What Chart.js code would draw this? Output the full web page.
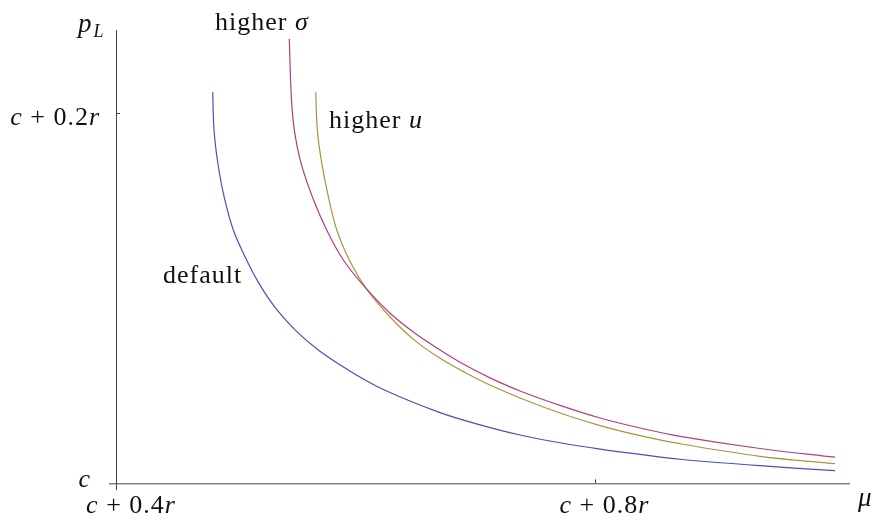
<!DOCTYPE html>
<html>
<head>
<meta charset="utf-8">
<script src="https://cdn.jsdelivr.net/npm/chart.js@4/dist/chart.umd.min.js"></script>
<style>
  html, body { margin: 0; padding: 0; background: #fff; }
  #plot { display: block; }
</style>
</head>
<body>
<canvas id="plot" width="877" height="520"></canvas>
<script>
// mu values (offset from c, in units of r) and p_L values for each curve
const defaultMu = [0.4807, 0.4818, 0.4850, 0.4902, 0.4979, 0.5077, 0.5188, 0.5327, 0.5494, 0.5688, 0.5939, 0.6231, 0.6704, 0.7038, 0.7372, 0.7705, 0.8039, 0.8373, 0.8707, 0.9374, 1.0];
const defaultPL = [0.2114, 0.1910, 0.1730, 0.1549, 0.1369, 0.1224, 0.1086, 0.0951, 0.0829, 0.0720, 0.0612, 0.0507, 0.0382, 0.0316, 0.0261, 0.0219, 0.0185, 0.0156, 0.0130, 0.0095, 0.0068];

const sigmaMu = [0.5446, 0.5463, 0.5488, 0.5544, 0.5638, 0.5758, 0.5897, 0.6092, 0.6287, 0.6495, 0.6704, 0.6913, 0.7121, 0.7372, 0.7705, 0.8039, 0.8373, 0.8707, 0.9374, 1.0];
const sigmaPL = [0.2402, 0.2090, 0.1910, 0.1730, 0.1549, 0.1369, 0.1207, 0.1049, 0.0919, 0.0811, 0.0721, 0.0639, 0.0570, 0.0499, 0.0421, 0.0353, 0.0299, 0.0254, 0.0188, 0.0141];

const uMu = [0.5667, 0.5680, 0.5717, 0.5772, 0.5842, 0.5947, 0.6092, 0.6287, 0.6495, 0.6704, 0.6913, 0.7121, 0.7372, 0.7705, 0.8039, 0.8373, 0.8707, 0.9374, 1.0];
const uPL = [0.2114, 0.1910, 0.1730, 0.1549, 0.1369, 0.1207, 0.1049, 0.0899, 0.0771, 0.0676, 0.0599, 0.0531, 0.0461, 0.0380, 0.0312, 0.0258, 0.0214, 0.0146, 0.0106];

const xTicks = [0.4, 0.8];
const xTickLabels = ['c + 0.4r', 'c + 0.8r'];
const yTicks = [0, 0.2];
const yTickLabels = ['c', 'c + 0.2r'];

const FONT = 'Liberation Serif';
const SIZE = 26;

function toPoints(xs, ys) {
  return xs.map((x, i) => ({ x: x, y: ys[i] }));
}

// draw a string, single letters in italic (math variables), the rest upright
function drawMath(ctx, text, x, y, align, size) {
  const parts = text.match(/[a-zA-Z\u03c3\u03bc]|[^a-zA-Z\u03c3\u03bc]+/g);
  const fontFor = p => (/^[a-zA-Z\u03c3\u03bc]$/.test(p) ? 'italic ' : '') + size + 'px "' + FONT + '"';
  let width = 0;
  parts.forEach(p => { ctx.font = fontFor(p); width += ctx.measureText(p).width; });
  let cx = x;
  if (align === 'right') cx = x - width;
  if (align === 'center') cx = x - width / 2;
  ctx.textAlign = 'left';
  ctx.textBaseline = 'alphabetic';
  parts.forEach(p => {
    ctx.font = fontFor(p);
    ctx.fillText(p, cx, y);
    cx += ctx.measureText(p).width;
  });
}

function drawWords(ctx, word, symbol, x, y) {
  ctx.textAlign = 'left';
  ctx.textBaseline = 'alphabetic';
  ctx.font = SIZE + 'px "' + FONT + '"';
  ctx.fillText(word + ' ', x, y);
  const w = ctx.measureText(word + ' ').width;
  ctx.font = 'italic ' + SIZE + 'px "' + FONT + '"';
  ctx.fillText(symbol, x + w, y);
}

const axesPlugin = {
  id: 'axesPlugin',
  afterDraw(chart) {
    const ctx = chart.ctx;
    const xs = chart.scales.x;
    const ys = chart.scales.y;
    const x0 = xs.getPixelForValue(xTicks[0]);
    const y0 = ys.getPixelForValue(yTicks[0]);

    ctx.save();
    ctx.strokeStyle = '#444';
    ctx.lineWidth = 1;
    ctx.beginPath();
    // axes lines
    ctx.moveTo(x0 + 0.5, ys.top);
    ctx.lineTo(x0 + 0.5, y0 + 7);
    ctx.moveTo(x0 - 7, y0 + 0.5);
    ctx.lineTo(xs.right, y0 + 0.5);
    // inner ticks
    xTicks.slice(1).forEach(v => {
      const px = Math.round(xs.getPixelForValue(v)) + 0.5;
      ctx.moveTo(px, y0);
      ctx.lineTo(px, y0 - 4);
    });
    yTicks.slice(1).forEach(v => {
      const py = Math.round(ys.getPixelForValue(v)) + 0.5;
      ctx.moveTo(x0, py);
      ctx.lineTo(x0 + 4, py);
    });
    ctx.stroke();

    ctx.fillStyle = '#111';
    if ('letterSpacing' in ctx) ctx.letterSpacing = '1px';
    xTicks.forEach((v, i) => {
      const px = xs.getPixelForValue(v);
      drawMath(ctx, xTickLabels[i], px + (i === 0 ? 15 : 9), y0 + 30, 'center', SIZE);
    });
    yTicks.forEach((v, i) => {
      const py = ys.getPixelForValue(v);
      if (i === 0) drawMath(ctx, yTickLabels[i], x0 - 25, py + 4, 'right', SIZE);
      else drawMath(ctx, yTickLabels[i], x0 - 16, py + 12, 'right', SIZE);
    });

    // axis titles
    ctx.font = 'italic ' + (SIZE + 1) + 'px "' + FONT + '"';
    ctx.textAlign = 'left';
    ctx.fillText('p', 78, 32);
    const pw = ctx.measureText('p').width;
    ctx.font = 'italic 18px "' + FONT + '"';
    ctx.fillText('L', 78 + pw + 1, 37);
    ctx.font = 'italic ' + (SIZE + 1) + 'px "' + FONT + '"';
    ctx.fillText('\u03bc', 858, 506);

    // curve labels
    drawWords(ctx, 'higher', '\u03c3', 215, 30);
    drawWords(ctx, 'higher', 'u', 329, 128);
    ctx.font = SIZE + 'px "' + FONT + '"';
    ctx.fillText('default', 163, 283);
    ctx.restore();
  }
};

const lineStyle = {
  showLine: true,
  pointRadius: 0,
  borderWidth: 1.2,
  fill: false,
  tension: 0.35
};

new Chart(document.getElementById('plot').getContext('2d'), {
  type: 'scatter',
  data: {
    datasets: [
      Object.assign({ label: 'default', data: toPoints(defaultMu, defaultPL), borderColor: '#4a50bb' }, lineStyle),
      Object.assign({ label: 'higher sigma', data: toPoints(sigmaMu, sigmaPL), borderColor: '#b23f7e' }, lineStyle),
      Object.assign({ label: 'higher u', data: toPoints(uMu, uPL), borderColor: '#a8953a' }, lineStyle)
    ]
  },
  options: {
    responsive: false,
    animation: false,
    devicePixelRatio: 1,
    layout: { padding: { left: 116, right: 27, top: 30, bottom: 36.7 } },
    plugins: { legend: { display: false }, tooltip: { enabled: false } },
    scales: {
      x: { type: 'linear', min: 0.4, max: 1.0125, display: false },
      y: { type: 'linear', min: 0, max: 0.245, display: false }
    }
  },
  plugins: [axesPlugin]
});
</script>
</body>
</html>
